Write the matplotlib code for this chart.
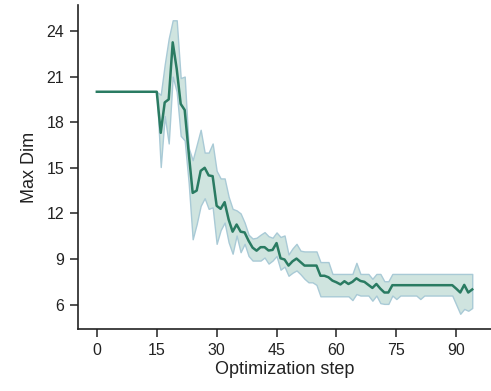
import numpy as np
import matplotlib
matplotlib.use("Agg")
import matplotlib.pyplot as plt

plt.rcParams['font.family'] = ['Liberation Sans', 'DejaVu Sans']

steps = list(range(95))

mean_vals = [20]*16 + [
    17.3, 19.3, 19.5, 23.25, 21.5, 19.2, 18.8, 16.0, 13.35,          # 16-24
    13.5, 14.8, 15.0, 14.5, 14.45, 12.5, 12.3, 12.74, 11.6, 10.8,    # 25-34
    11.27, 10.8, 10.75, 10.2, 9.75, 9.55, 9.78, 9.78, 9.56, 9.6,     # 35-44
    10.05, 9.05, 8.97, 8.57, 8.85, 9.03, 8.8, 8.57, 8.57, 8.57,      # 45-54
    8.57, 7.9, 7.9, 7.8, 7.58, 7.47, 7.33, 7.54, 7.36, 7.5,          # 55-64
    7.73, 7.56, 7.5, 7.3, 7.1, 7.36, 7.05, 6.8, 6.8, 7.28,           # 65-74
    7.28, 7.28, 7.28, 7.28, 7.28, 7.28, 7.28, 7.28, 7.28, 7.28,      # 75-84
    7.28, 7.28, 7.28, 7.28, 7.28, 7.05, 6.8, 7.3, 6.8, 7.0,          # 85-94
]

upper_vals = [20]*16 + [
    19.8, 21.8, 23.5, 24.7, 24.7, 20.9, 21.0, 16.3, 15.5,            # 16-24
    16.5, 17.5, 16.0, 16.0, 16.6, 14.8, 14.3, 14.3, 13.1, 12.3,      # 25-34
    12.2, 12.0, 11.4, 10.6, 10.35, 10.4, 10.6, 10.77, 10.5, 10.4,    # 35-44
    10.75, 10.45, 10.55, 9.3, 9.7, 10.0, 9.55, 9.5, 9.5, 9.5,        # 45-54
    9.5, 8.8, 8.8, 8.8, 8.02, 8.02, 8.02, 8.02, 8.02, 8.02,          # 55-64
    8.75, 8.02, 8.02, 8.02, 7.7, 8.02, 8.02, 7.54, 7.54, 8.02,       # 65-74
    8.02, 8.02, 8.02, 8.02, 8.02, 8.02, 8.02, 8.02, 8.02, 8.02,      # 75-84
    8.02, 8.02, 8.02, 8.02, 8.02, 8.02, 8.02, 8.02, 8.02, 8.02,      # 85-94
]

lower_vals = [20]*16 + [
    15.05, 18.4, 16.6, 21.0, 20.0, 17.1, 16.8, 14.0, 10.3,           # 16-24
    11.3, 12.5, 13.0, 12.3, 12.4, 10.0, 10.9, 11.4, 10.1, 9.35,      # 25-34
    10.55, 9.45, 10.0, 9.2, 8.9, 8.9, 8.9, 9.1, 8.7, 8.9,            # 35-44
    9.2, 8.3, 8.5, 7.9, 8.1, 8.25, 8.0, 7.7, 7.47, 7.47,             # 45-54
    7.3, 6.55, 6.55, 6.55, 6.55, 6.55, 6.55, 6.55, 6.55, 6.3,        # 55-64
    6.7, 6.6, 6.6, 6.6, 6.26, 6.6, 6.1, 6.05, 6.05, 6.6,             # 65-74
    6.37, 6.6, 6.6, 6.6, 6.6, 6.6, 6.37, 6.6, 6.6, 6.6,              # 75-84
    6.6, 6.6, 6.6, 6.6, 6.6, 6.0, 5.4, 5.72, 5.6, 5.78,              # 85-94
]

xticks = [0, 15, 30, 45, 60, 75, 90]
yticks = [6, 9, 12, 15, 18, 21, 24]

fig = plt.figure(figsize=(4.91, 3.91), dpi=100)
ax = fig.add_axes([0.159, 0.1586, 0.841, 0.8284])

ax.fill_between(steps, lower_vals, upper_vals, facecolor='#cfe4df',
                edgecolor='#a9cad6', linewidth=1.0, zorder=1)
ax.plot(steps, mean_vals, color='#2a7b62', linewidth=1.8, zorder=2)

ax.set_xlim(-4.7, 98.7)
ax.set_ylim(4.4, 25.7)
ax.set_xticks(xticks)
ax.set_yticks(yticks)
ax.tick_params(axis='both', direction='out', length=6, width=1.1,
               labelsize=11.5, colors='#222222', pad=4)
for s in ['top', 'right']:
    ax.spines[s].set_visible(False)
for s in ['left', 'bottom']:
    ax.spines[s].set_linewidth(1.2)
    ax.spines[s].set_color('#222222')

ax.set_xlabel('Optimization step', fontsize=13, color='#222222', labelpad=2)
ax.set_ylabel('Max Dim', fontsize=13, color='#222222', labelpad=6)

fig.savefig('out.png', dpi=100)
